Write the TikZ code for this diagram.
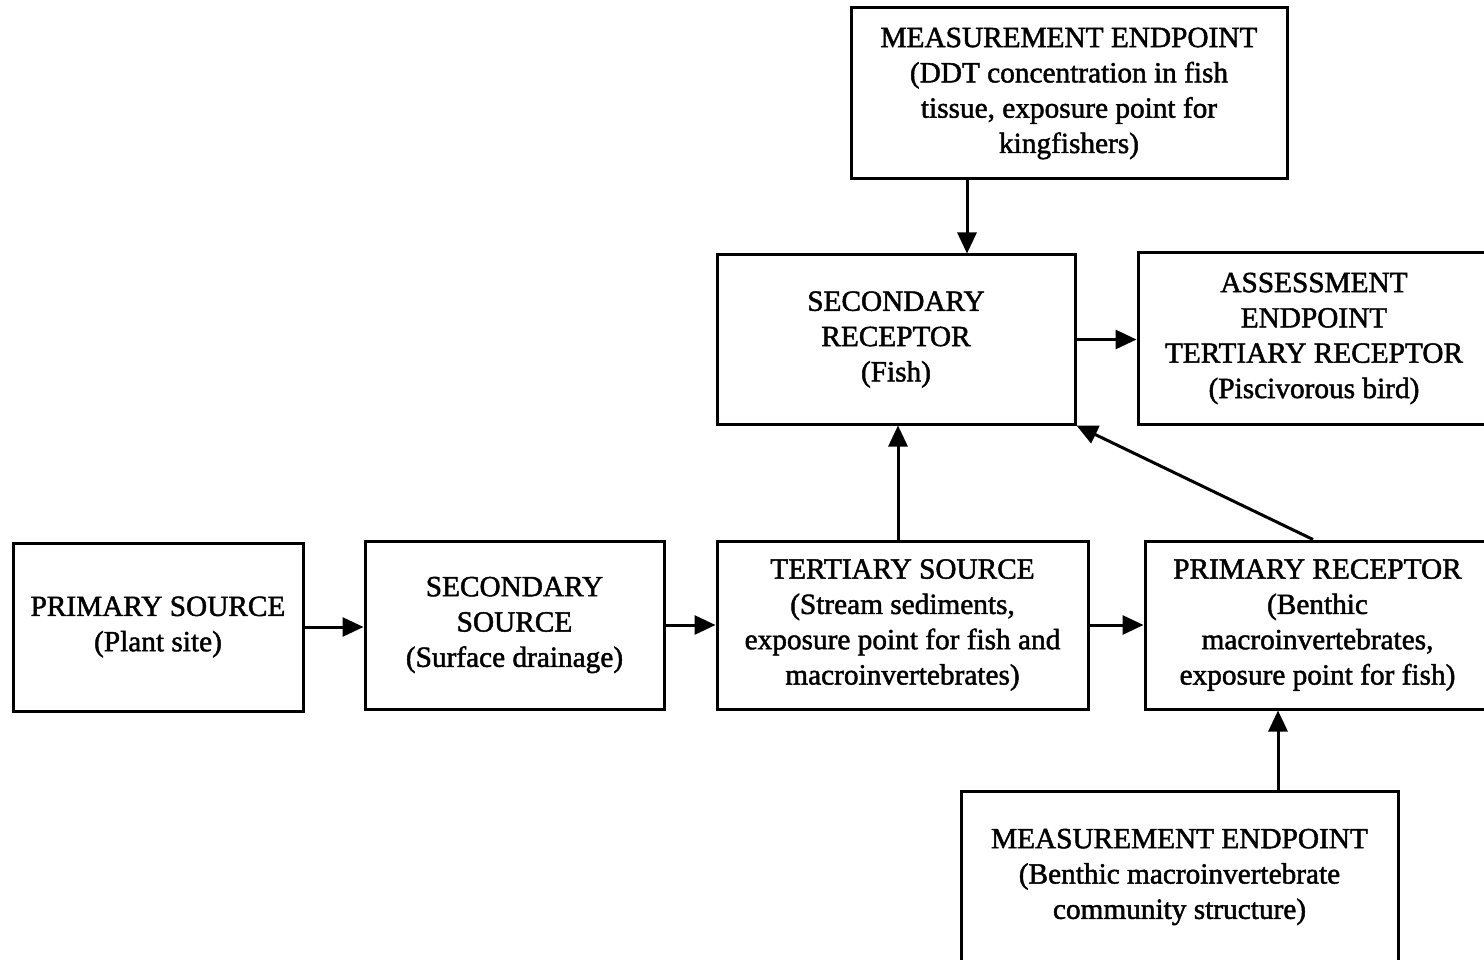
\documentclass[tikz,border=0pt]{standalone}
\usepackage{fontspec}
\setmainfont{Liberation Serif}[UprightFeatures={FakeBold=1.6}]
\usetikzlibrary{arrows.meta,calc}
\tikzset{
  box/.style={draw=black, line width=3pt, rectangle, inner sep=0pt, align=center,
    font=\fontsize{29.3}{35.3}\selectfont},
  arr/.style={line width=3pt, -{Triangle[length=21pt,width=19pt]}}
}
\begin{document}
\begin{tikzpicture}[x=1pt,y=-1pt]
\useasboundingbox (0,0) rectangle (1484,960);
\clip (0,0) rectangle (1484,960);
\fill[white] (0,0) rectangle (1484,960);

% boxes
\node[box, minimum width=436pt, minimum height=171pt] (topmeas) at (1069,93.5)
  {MEASUREMENT ENDPOINT\\(DDT concentration in fish\\tissue, exposure point for\\kingfishers)};
\node[box, minimum width=358pt, minimum height=169pt] (secrec) at (896,339.5)
  {SECONDARY\\RECEPTOR\\(Fish)};
\node[box, minimum width=352pt, minimum height=171pt] (assess) at (1314,338.5)
  {ASSESSMENT\\ENDPOINT\\TERTIARY RECEPTOR\\(Piscivorous bird)};
\node[box, minimum width=290pt, minimum height=168pt] (primsrc) at (158,627)
  {PRIMARY SOURCE\\(Plant site)};
\node[box, minimum width=299pt, minimum height=168pt] (secsrc) at (514.5,625)
  {SECONDARY\\SOURCE\\(Surface drainage)};
\node[box, minimum width=371pt, minimum height=168pt] (tersrc) at (902.5,625)
  {TERTIARY SOURCE\\(Stream sediments,\\exposure point for fish and\\macroinvertebrates)};
\node[box, minimum width=345pt, minimum height=168pt] (primrec) at (1317.5,625)
  {PRIMARY RECEPTOR\\(Benthic\\macroinvertebrates,\\exposure point for fish)};
\node[box, minimum width=437pt, minimum height=172pt] (botmeas) at (1179.5,877)
  {MEASUREMENT ENDPOINT\\(Benthic macroinvertebrate\\community structure)};

% connectors
\coordinate (xa) at (967,0);
\coordinate (xb) at (898,0);
\coordinate (xc) at (1278,0);
\coordinate (xd) at (1313,0);
\draw[arr] (topmeas.south -| xa) -- (secrec.north -| xa);
\draw[arr] (secrec.east) -- (secrec.east -| assess.west);
\draw[arr] (tersrc.north -| xb) -- (secrec.south -| xb);
\draw[arr] (primrec.north -| xd) -- (secrec.south east);
\draw[arr] (primsrc.east) -- (primsrc.east -| secsrc.west);
\draw[arr] (secsrc.east) -- (secsrc.east -| tersrc.west);
\draw[arr] (tersrc.east) -- (tersrc.east -| primrec.west);
\draw[arr] (botmeas.north -| xc) -- (primrec.south -| xc);
\end{tikzpicture}
\end{document}
